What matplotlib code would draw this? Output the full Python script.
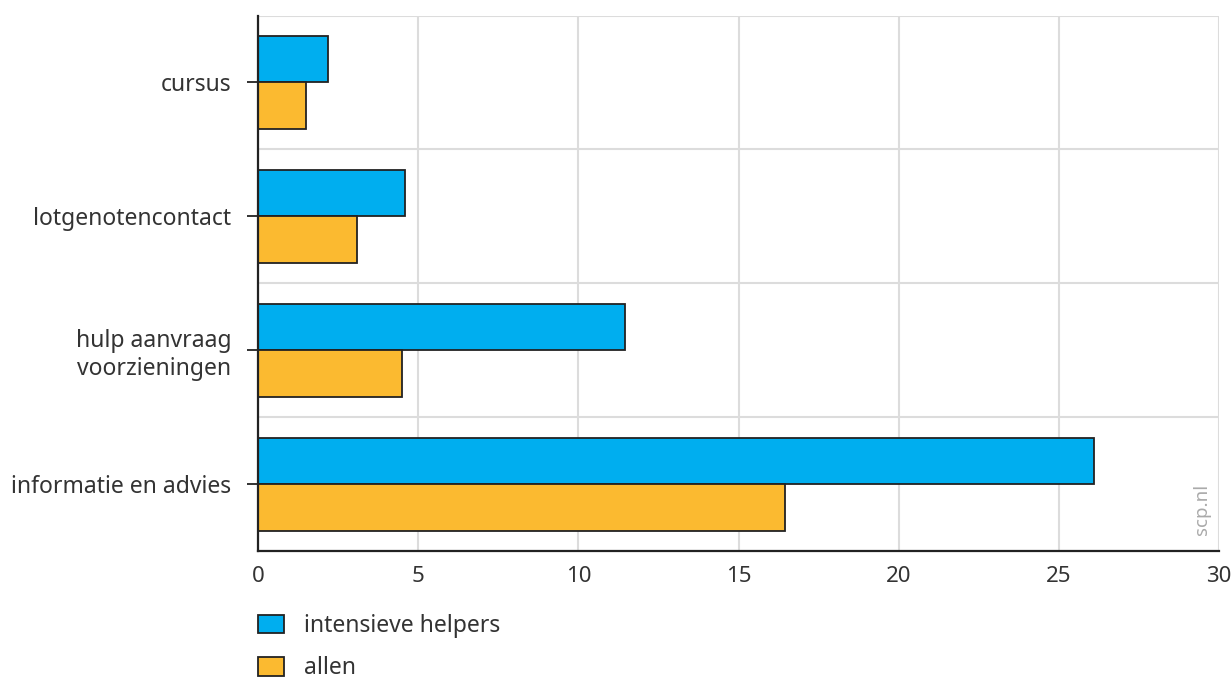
import matplotlib.pyplot as plt
import numpy as np
from matplotlib.patches import Patch

categories = ['cursus', 'lotgenotencontact', 'hulp aanvraag\nvoorzieningen', 'informatie en advies']
intensieve_helpers = [2.2, 4.6, 11.45, 26.1]
allen = [1.5, 3.1, 4.5, 16.45]
series_names = ['intensieve helpers', 'allen']
xticks = [0, 5, 10, 15, 20, 25, 30]

blue = '#00aeef'
orange = '#fbba30'
edge = '#222222'
grid = '#dcdcdc'
txt = '#333333'

plt.rcParams['font.family'] = ['Noto Sans', 'DejaVu Sans']

fig = plt.figure(figsize=(12.31, 6.78), dpi=100)
ax = fig.add_axes([258 / 1231, 0.1873, 961 / 1231, 0.7898])

y = np.arange(len(categories))
h = 0.347
ax.barh(y - h / 2, intensieve_helpers, height=h, color=blue, edgecolor=edge, linewidth=1.3, zorder=3)
ax.barh(y + h / 2, allen, height=h, color=orange, edgecolor=edge, linewidth=1.3, zorder=3)

ax.set_xlim(0, 30)
ax.set_ylim(len(categories) - 0.5, -0.5)
ax.set_xticks(xticks)
ax.set_xticklabels([str(t) for t in xticks])
ax.set_yticks(y)
ax.set_yticklabels(categories)
ax.set_yticks(np.arange(-0.5, len(categories), 1.0), minor=True)

ax.grid(True, axis='x', color=grid, linewidth=1.5, zorder=0)
ax.grid(True, axis='y', which='minor', color=grid, linewidth=1.5, zorder=0)
ax.grid(False, axis='y', which='major')

for s in ['top', 'right']:
    ax.spines[s].set_visible(False)
for s in ['left', 'bottom']:
    ax.spines[s].set_color(edge)
    ax.spines[s].set_linewidth(1.6)
    ax.spines[s].set_zorder(4)

ax.tick_params(axis='x', length=0, pad=11, labelsize=16, labelcolor=txt)
ax.tick_params(axis='y', which='major', length=8, width=1.3, color=edge, pad=11,
               labelsize=16.5, labelcolor=txt)
ax.tick_params(axis='y', which='minor', length=0)
for lab in ax.get_yticklabels():
    lab.set_multialignment('right')

ax.text(0.982, 0.03, 'scp.nl', transform=ax.transAxes, rotation=90, ha='center', va='bottom',
        fontsize=13.5, color='#aaaaaa')

handles = [Patch(facecolor=blue, edgecolor=edge, linewidth=1.3),
           Patch(facecolor=orange, edgecolor=edge, linewidth=1.3)]
fig.legend(handles, series_names, loc='upper left', bbox_to_anchor=(258 / 1231, 1 - 614 / 678),
           frameon=False, fontsize=16.5, handlelength=1.15, handleheight=0.85,
           handletextpad=0.85, labelspacing=0.8, borderaxespad=0, borderpad=0,
           labelcolor=txt)

fig.savefig('out.png', dpi=100)
